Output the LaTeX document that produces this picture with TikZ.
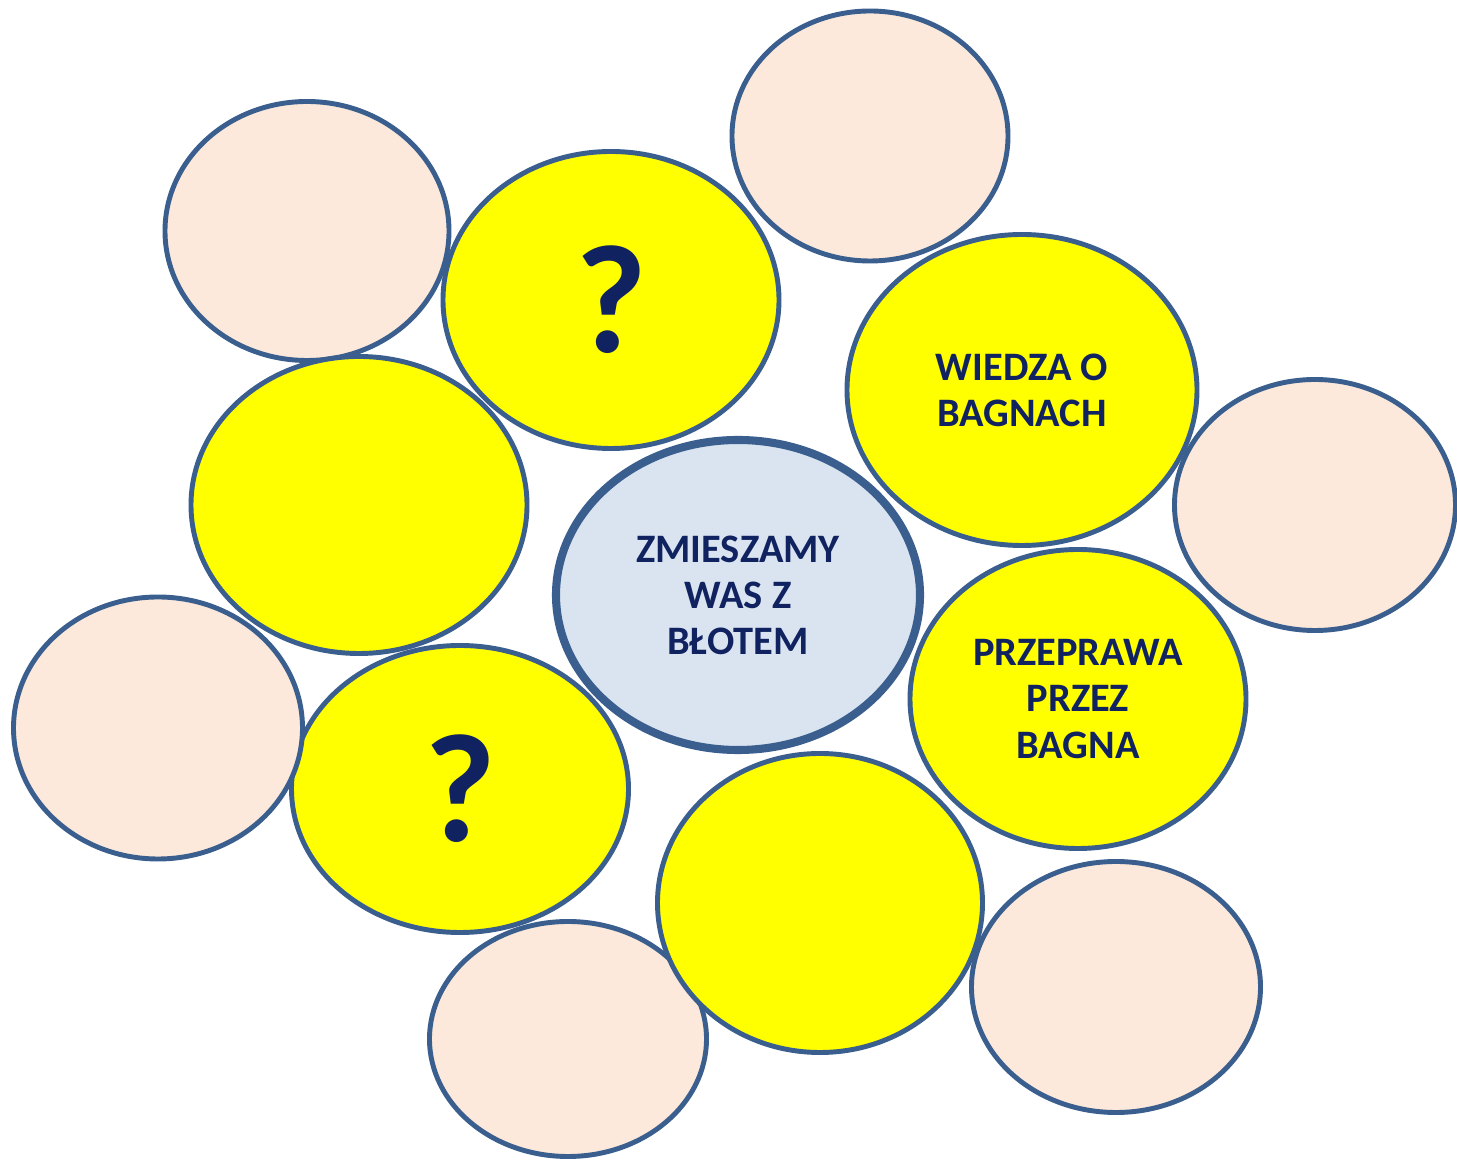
\documentclass[tikz,border=0pt]{standalone}
\usepackage{fontspec}
\setmainfont{Carlito}
\usetikzlibrary{shapes.geometric}
\definecolor{edgeblue}{RGB}{58,95,142}
\definecolor{pinkfill}{RGB}{252,233,219}
\definecolor{centerfill}{RGB}{218,228,241}
\definecolor{navytext}{RGB}{16,34,95}
\definecolor{yfill}{RGB}{255,255,0}
\tikzset{
  blob/.style={ellipse, draw=edgeblue, line width=1.4pt, inner sep=0pt},
  pinkblob/.style={blob, fill=pinkfill},
  yellowblob/.style={blob, fill=yfill, text=navytext, font=\bfseries\fontsize{11.5}{13.1}\selectfont, align=center},
  centerblob/.style={blob, line width=2.3pt, fill=centerfill, text=navytext, font=\bfseries\fontsize{11.5}{13.1}\selectfont, align=center},
  qmark/.style={font=\bfseries\fontsize{44}{44}\selectfont}
}
\begin{document}
\begin{tikzpicture}
\fill[white] (0,0) rectangle (14.57,11.60);
\useasboundingbox (0,0) rectangle (14.57,11.60);
% pink back
\node[pinkblob, minimum width=2.84cm, minimum height=2.59cm] (p1) at (3.07,9.29) {};
\node[pinkblob, minimum width=2.76cm, minimum height=2.50cm] (p2) at (8.70,10.24) {};
% yellow
\node[yellowblob, minimum width=3.36cm, minimum height=2.97cm] (yB) at (3.59,6.55) {};
\node[yellowblob, qmark, minimum width=3.36cm, minimum height=2.97cm] (yA) at (6.11,8.60) {?};
\node[yellowblob, minimum width=3.50cm, minimum height=3.11cm] (yF) at (10.22,7.70) {WIEDZA O\\BAGNACH};
\node[yellowblob, minimum width=3.36cm, minimum height=2.99cm] (yE) at (10.78,4.61) {PRZEPRAWA\\PRZEZ\\BAGNA};
\node[yellowblob, qmark, minimum width=3.37cm, minimum height=2.87cm] (yC) at (4.60,3.71) {?};
% pink front
\node[pinkblob, minimum width=2.81cm, minimum height=2.51cm] (p3) at (13.15,6.55) {};
\node[pinkblob, minimum width=2.89cm, minimum height=2.62cm] (p4) at (1.58,4.32) {};
\node[pinkblob, minimum width=2.77cm, minimum height=2.35cm] (p5) at (5.68,1.21) {};
\node[pinkblob, minimum width=2.89cm, minimum height=2.51cm] (p6) at (11.16,1.73) {};
% bottom yellow
\node[yellowblob, minimum width=3.25cm, minimum height=2.99cm] (yD) at (8.20,2.57) {};
% center
\node[centerblob, minimum width=3.64cm, minimum height=3.10cm] (c) at (7.38,5.65) {ZMIESZAMY\\WAS Z\\BŁOTEM};
\end{tikzpicture}
\end{document}
